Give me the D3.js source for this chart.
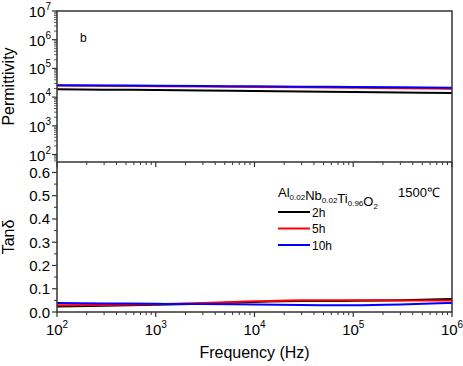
<!DOCTYPE html>
<html>
<head>
<meta charset="utf-8">
<script src="https://cdn.jsdelivr.net/npm/d3@7"></script>
<style>
  body { margin: 0; background: #fff; }
  text { font-family: Arial, "Liberation Sans", sans-serif; fill: #000; }
</style>
</head>
<body>
<div id="chart"></div>
<script>
// frequency points (Hz)
var freq = [1e2, 3e2, 1e3, 3e3, 1e4, 3e4, 1e5, 3e5, 1e6];

// permittivity
var eps2h  = [18700, 18200, 17600, 17000, 16300, 15600, 15000, 14400, 13900];
var eps5h  = [25200, 24700, 24100, 23400, 22700, 21900, 21100, 20400, 19500];
var eps10h = [26000, 25500, 25000, 24400, 23800, 23200, 22500, 21900, 21400];

// tan delta
var tan2h  = [0.024, 0.027, 0.031, 0.036, 0.043, 0.047, 0.048, 0.051, 0.056];
var tan5h  = [0.029, 0.030, 0.033, 0.039, 0.046, 0.051, 0.050, 0.049, 0.049];
var tan10h = [0.039, 0.037, 0.035, 0.034, 0.032, 0.030, 0.029, 0.032, 0.039];

var xTicks = [1e2, 1e3, 1e4, 1e5, 1e6];
var epsTicks = [1e2, 1e3, 1e4, 1e5, 1e6, 1e7];
var tanTicks = [0, 0.1, 0.2, 0.3, 0.4, 0.5, 0.6];
var seriesNames = ["2h", "5h", "10h"];
var colors = ["#000000", "#ff0000", "#0000ff"];

var W = 463, H = 366;
var pLeft = 57, pRight = 452, pTop = 11, pMid = 162, pBottom = 312;
var axisColor = "#333";

var svg = d3.select("#chart").append("svg")
    .attr("width", W).attr("height", H);

var x = d3.scaleLog().domain([1e2, 1e6]).range([pLeft, pRight]);
var yEps = d3.scaleLog().domain([Math.pow(10, 1.74), 1e7]).range([pMid, pTop]);
var yTan = d3.scaleLinear().domain([0, 0.645]).range([pBottom, pMid]);

function sup(sel, base, exp) {
  sel.append("tspan").text(base);
  sel.append("tspan").attr("dy", -7).attr("font-size", 10).text(exp);
}

// minor tick values for log axes
function logMinors(lo, hi) {
  var out = [];
  for (var e = lo; e < hi; e++)
    for (var m = 2; m <= 9; m++) out.push(m * Math.pow(10, e));
  return out;
}

// ---- top panel ----
var gTop = svg.append("g");

// x ticks on separator (pointing down)
gTop.selectAll("line.xmaj").data(xTicks).enter().append("line")
  .attr("x1", d => x(d)).attr("x2", d => x(d))
  .attr("y1", pMid).attr("y2", pMid + 5)
  .attr("stroke", axisColor).attr("stroke-width", 1.2);
gTop.selectAll("line.xmin").data(logMinors(2, 6)).enter().append("line")
  .attr("x1", d => x(d)).attr("x2", d => x(d))
  .attr("y1", pMid).attr("y2", pMid + 3)
  .attr("stroke", axisColor).attr("stroke-width", 1);

// y ticks
gTop.selectAll("line.ymaj").data(epsTicks).enter().append("line")
  .attr("x1", pLeft - 5).attr("x2", pLeft)
  .attr("y1", d => yEps(d)).attr("y2", d => yEps(d))
  .attr("stroke", axisColor).attr("stroke-width", 1.2);
gTop.selectAll("line.ymin").data(logMinors(1, 7).filter(d => yEps(d) <= pMid)).enter().append("line")
  .attr("x1", pLeft - 3).attr("x2", pLeft)
  .attr("y1", d => yEps(d)).attr("y2", d => yEps(d))
  .attr("stroke", axisColor).attr("stroke-width", 0.8);

gTop.selectAll("text.ylab").data(epsTicks).enter().append("text")
  .attr("x", 51).attr("y", d => yEps(d) + 6)
  .attr("text-anchor", "end").attr("font-size", 15)
  .each(function(d) { sup(d3.select(this), "10", Math.round(Math.log10(d))); });

var lineEps = d3.line().x((d, i) => x(freq[i])).y(d => yEps(d)).curve(d3.curveMonotoneX);
[eps2h, eps5h, eps10h].forEach(function(s, i) {
  gTop.append("path").datum(s).attr("d", lineEps)
    .attr("fill", "none").attr("stroke", colors[i]).attr("stroke-width", 2);
});

gTop.append("text").attr("x", 80).attr("y", 42).attr("font-size", 12).text("b");

gTop.append("text")
  .attr("transform", "translate(14," + ((pTop + pMid) / 2) + ") rotate(-90)")
  .attr("text-anchor", "middle").attr("font-size", 16).text("Permittivity");

// ---- bottom panel ----
var gBot = svg.append("g");

gBot.selectAll("line.xmaj").data(xTicks).enter().append("line")
  .attr("x1", d => x(d)).attr("x2", d => x(d))
  .attr("y1", pBottom).attr("y2", pBottom + 5)
  .attr("stroke", axisColor).attr("stroke-width", 1.2);
gBot.selectAll("line.xmin").data(logMinors(2, 6)).enter().append("line")
  .attr("x1", d => x(d)).attr("x2", d => x(d))
  .attr("y1", pBottom).attr("y2", pBottom + 3)
  .attr("stroke", axisColor).attr("stroke-width", 1);

gBot.selectAll("text.xlab").data(xTicks).enter().append("text")
  .attr("x", d => x(d)).attr("y", 335)
  .attr("text-anchor", "middle").attr("font-size", 15)
  .each(function(d) { sup(d3.select(this), "10", Math.round(Math.log10(d))); });

gBot.selectAll("line.ymaj").data(tanTicks).enter().append("line")
  .attr("x1", pLeft - 5).attr("x2", pLeft)
  .attr("y1", d => yTan(d)).attr("y2", d => yTan(d))
  .attr("stroke", axisColor).attr("stroke-width", 1.2);
gBot.selectAll("line.ymin").data(d3.range(0.05, 0.65, 0.1)).enter().append("line")
  .attr("x1", pLeft - 3).attr("x2", pLeft)
  .attr("y1", d => yTan(d)).attr("y2", d => yTan(d))
  .attr("stroke", axisColor).attr("stroke-width", 1);

gBot.selectAll("text.ylab").data(tanTicks).enter().append("text")
  .attr("x", 50).attr("y", d => yTan(d) + 5.5)
  .attr("text-anchor", "end").attr("font-size", 15)
  .text(d => d.toFixed(1));

var lineTan = d3.line().x((d, i) => x(freq[i])).y(d => yTan(d)).curve(d3.curveMonotoneX);
[tan2h, tan5h, tan10h].forEach(function(s, i) {
  gBot.append("path").datum(s).attr("d", lineTan)
    .attr("fill", "none").attr("stroke", colors[i]).attr("stroke-width", 2);
});

gBot.append("text")
  .attr("transform", "translate(14," + ((pMid + pBottom) / 2) + ") rotate(-90)")
  .attr("text-anchor", "middle").attr("font-size", 16).text("Tan\u03b4");

svg.append("text").attr("x", (pLeft + pRight) / 2).attr("y", 358)
  .attr("text-anchor", "middle").attr("font-size", 16).text("Frequency (Hz)");

// legend
var leg = svg.append("g");
var title = leg.append("text").attr("x", 278).attr("y", 197).attr("font-size", 13);
[["Al", "0.02"], ["Nb", "0.02"], ["Ti", "0.96"], ["O", "2"]].forEach(function(p) {
  title.append("tspan").text(p[0]);
  title.append("tspan").attr("dy", 3).attr("font-size", 8).text(p[1]);
  title.append("tspan").attr("dy", -3).text("");
});
leg.append("text").attr("x", 398).attr("y", 197).attr("font-size", 13).text("1500\u2103");

seriesNames.forEach(function(n, i) {
  var yy = 212 + i * 16.5;
  leg.append("line").attr("x1", 278).attr("x2", 310).attr("y1", yy).attr("y2", yy)
    .attr("stroke", colors[i]).attr("stroke-width", 2);
  leg.append("text").attr("x", 312).attr("y", yy + 4.5).attr("font-size", 12).text(n);
});

// frames
svg.append("rect").attr("x", pLeft).attr("y", pTop)
  .attr("width", pRight - pLeft).attr("height", pBottom - pTop)
  .attr("fill", "none").attr("stroke", axisColor).attr("stroke-width", 1.5);
svg.append("line").attr("x1", pLeft).attr("x2", pRight).attr("y1", pMid).attr("y2", pMid)
  .attr("stroke", axisColor).attr("stroke-width", 1.5);
</script>
</body>
</html>
